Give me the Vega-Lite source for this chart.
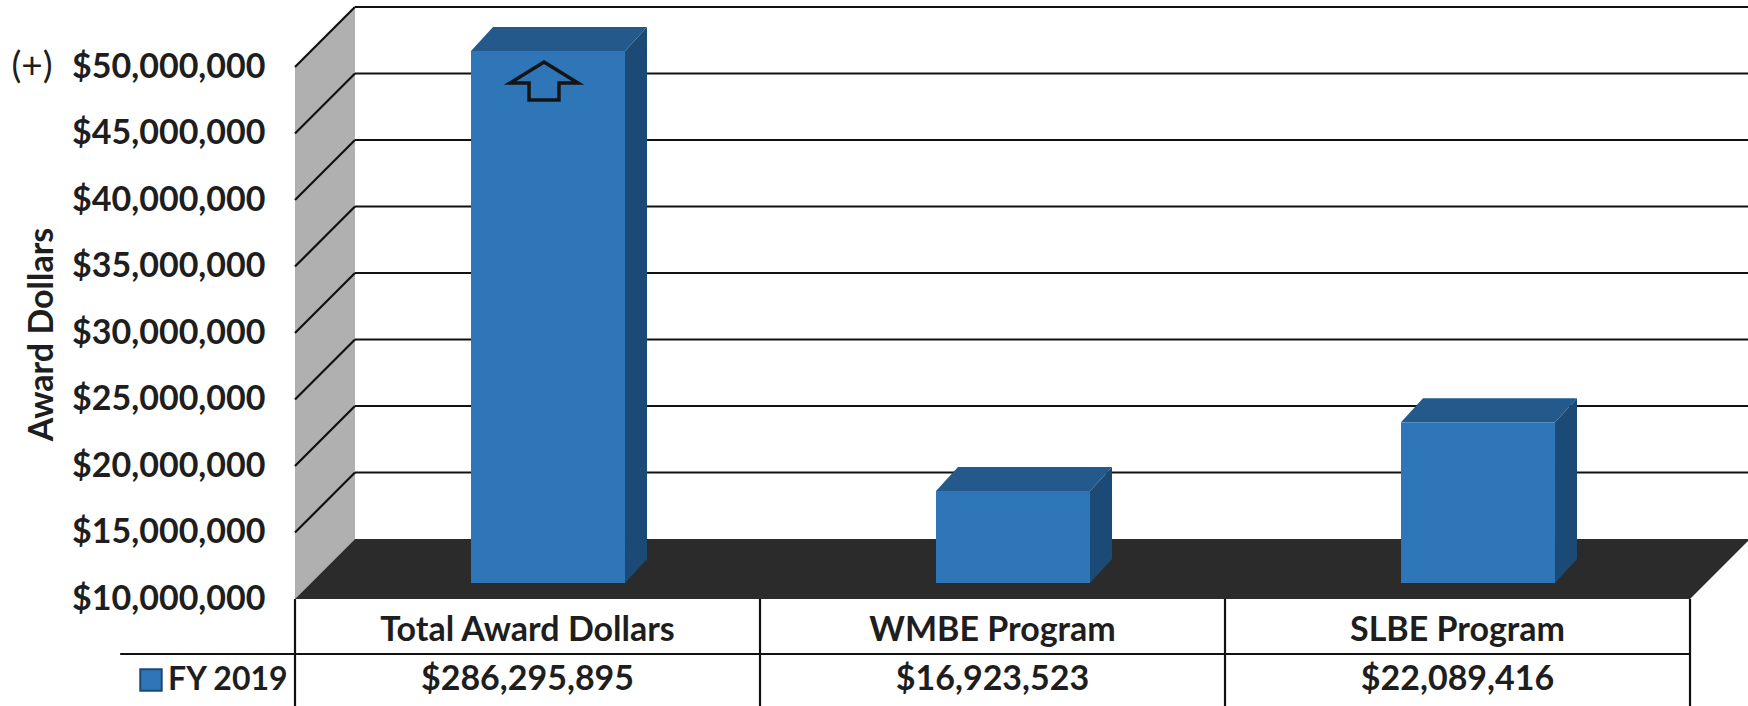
{
  "$schema": "https://vega.github.io/schema/vega-lite/v6.json",
  "width": 1453,
  "height": 706,
  "autosize": {"type": "none"},
  "padding": {"left": 295, "top": 0, "right": 0, "bottom": 0},
  "background": "white",
  "config": {"view": {"stroke": null}, "font": "Lato"},
  "datasets": {
    "bars": [
      {"category": "Total Award Dollars", "amount": 286295895, "year": "FY 2019"},
      {"category": "WMBE Program", "amount": 16923523, "year": "FY 2019"},
      {"category": "SLBE Program", "amount": 22089416, "year": "FY 2019"}
    ],
    "ticks": [
      {"tick": 10000000}, {"tick": 15000000}, {"tick": 20000000}, {"tick": 25000000},
      {"tick": 30000000}, {"tick": 35000000}, {"tick": 40000000}, {"tick": 45000000}, {"tick": 50000000}
    ]
  },
  "encoding": {
    "x": {"field": "X", "type": "quantitative", "scale": {"domain": [0, 3.1247], "nice": false, "zero": false}, "axis": null},
    "y": {
      "field": "Y", "type": "quantitative",
      "scale": {"domain": [1954887, 55037594], "nice": false, "zero": false},
      "axis": {
        "values": [10000000, 15000000, 20000000, 25000000, 30000000, 35000000, 40000000, 45000000, 50000000],
        "format": "$,.0f", "ticks": false, "domain": false, "grid": false,
        "labelPadding": 30, "labelLimit": 400, "labelFont": "Lato", "labelFontWeight": "bold",
        "labelFontSize": 34, "labelColor": "#1e1e1e", "labelOverlap": false,
        "title": "Award Dollars", "titleFont": "Lato", "titleFontWeight": "bold", "titleFontSize": 34,
        "titleColor": "#1e1e1e", "titleX": -253, "titleY": 334, "titleAngle": -90,
        "titleAlign": "center", "titleBaseline": "middle"
      }
    }
  },
  "layer": [
    {
      "data": {"name": "ticks"},
      "transform": [
        {"aggregate": [{"op": "min", "field": "tick", "as": "lo"}, {"op": "max", "field": "tick", "as": "hi"}]},
        {"calculate": "[0,1]", "as": "k"}, {"flatten": ["k"]},
        {"calculate": "datum.k*0.129", "as": "X"},
        {"calculate": "datum.lo+datum.k*4511000", "as": "Y"},
        {"calculate": "datum.hi+datum.k*4511000", "as": "Y2"}
      ],
      "mark": {"type": "area", "orient": "vertical", "color": "#b0b0b0"},
      "encoding": {"y2": {"field": "Y2"}}
    },
    {
      "data": {"name": "ticks"},
      "transform": [
        {"aggregate": [{"op": "min", "field": "tick", "as": "lo"}]},
        {"calculate": "[0,1]", "as": "k"}, {"flatten": ["k"]},
        {"calculate": "datum.k*0.129", "as": "X"},
        {"calculate": "3+datum.k*0.129", "as": "X2"},
        {"calculate": "datum.lo+datum.k*4511000", "as": "Y"}
      ],
      "mark": {"type": "area", "orient": "horizontal", "color": "#2b2b2b"},
      "encoding": {"x2": {"field": "X2"}}
    },
    {
      "data": {"name": "ticks"},
      "transform": [
        {"filter": "datum.tick > 10000000"},
        {"calculate": "0.129", "as": "X"},
        {"calculate": "3.13", "as": "X2"},
        {"calculate": "datum.tick+4511000", "as": "Y"}
      ],
      "mark": {"type": "rule", "color": "#111111", "strokeWidth": 2.2},
      "encoding": {"x2": {"field": "X2"}}
    },
    {
      "data": {"name": "ticks"},
      "transform": [
        {"filter": "datum.tick > 10000000"},
        {"calculate": "0", "as": "X"},
        {"calculate": "0.129", "as": "X2"},
        {"calculate": "datum.tick", "as": "Y"},
        {"calculate": "datum.tick+4511000", "as": "Y2"}
      ],
      "mark": {"type": "rule", "color": "#111111", "strokeWidth": 2.2},
      "encoding": {"x2": {"field": "X2"}, "y2": {"field": "Y2"}}
    },
    {
      "data": {"name": "bars"},
      "transform": [
        {"window": [{"op": "row_number", "as": "rn"}]},
        {"calculate": "datum.rn-1", "as": "idx"},
        {"calculate": "min(datum.amount,50000000)", "as": "cap"},
        {"calculate": "[0,1]", "as": "k"}, {"flatten": ["k"]},
        {"calculate": "datum.idx+0.7097+0.0473*datum.k", "as": "X"},
        {"calculate": "11203008+1804511*datum.k", "as": "Y"},
        {"calculate": "datum.cap+1203008+1804511*datum.k", "as": "Y2"}
      ],
      "mark": {"type": "area", "orient": "vertical", "color": "#1c4a76"},
      "encoding": {"y2": {"field": "Y2"}, "detail": {"field": "category"}}
    },
    {
      "data": {"name": "bars"},
      "transform": [
        {"window": [{"op": "row_number", "as": "rn"}]},
        {"calculate": "datum.rn-1", "as": "idx"},
        {"calculate": "min(datum.amount,50000000)", "as": "cap"},
        {"calculate": "[0,1]", "as": "k"}, {"flatten": ["k"]},
        {"calculate": "datum.idx+0.3785+0.0473*datum.k", "as": "X"},
        {"calculate": "datum.idx+0.7097+0.0473*datum.k", "as": "X2"},
        {"calculate": "datum.cap+1203008+1804511*datum.k", "as": "Y"}
      ],
      "mark": {"type": "area", "orient": "horizontal", "color": "#245a8b"},
      "encoding": {"x2": {"field": "X2"}, "detail": {"field": "category"}}
    },
    {
      "data": {"name": "bars"},
      "transform": [
        {"window": [{"op": "row_number", "as": "rn"}]},
        {"calculate": "datum.rn-1", "as": "idx"},
        {"calculate": "min(datum.amount,50000000)", "as": "cap"},
        {"calculate": "datum.idx+0.3785", "as": "X"},
        {"calculate": "datum.idx+0.7097", "as": "X2"},
        {"calculate": "11203008", "as": "Y"},
        {"calculate": "datum.cap+1203008", "as": "Y2"}
      ],
      "mark": {"type": "rect", "color": "#2e76b7"},
      "encoding": {"x2": {"field": "X2"}, "y2": {"field": "Y2"}}
    },
    {
      "data": {"name": "bars"},
      "transform": [
        {"window": [{"op": "row_number", "as": "rn"}]},
        {"calculate": "datum.rn-1", "as": "idx"},
        {"filter": "datum.amount > 50000000"},
        {"calculate": "datum.idx+0.3785+0.157", "as": "X"},
        {"calculate": "50000000+1203008-2256000", "as": "Y"}
      ],
      "mark": {
        "type": "point",
        "shape": "M0,-0.56L1,0.06L0.44,0.06L0.44,0.56L-0.44,0.56L-0.44,0.06L-1,0.06Z",
        "size": 4624, "filled": false, "stroke": "#141414", "strokeWidth": 3.5, "opacity": 1
      }
    },
    {
      "data": {"name": "bars"},
      "transform": [
        {"window": [{"op": "row_number", "as": "rn"}]},
        {"calculate": "datum.rn-1", "as": "X"},
        {"calculate": "10000000", "as": "Y"},
        {"calculate": "1954887", "as": "Y2"}
      ],
      "mark": {"type": "rule", "color": "#111111", "strokeWidth": 2.2},
      "encoding": {"y2": {"field": "Y2"}}
    },
    {
      "data": {"name": "bars"},
      "transform": [
        {"window": [{"op": "row_number", "as": "rn"}]},
        {"filter": "datum.rn == 3"},
        {"calculate": "datum.rn", "as": "X"},
        {"calculate": "10000000", "as": "Y"},
        {"calculate": "1954887", "as": "Y2"}
      ],
      "mark": {"type": "rule", "color": "#111111", "strokeWidth": 2.2},
      "encoding": {"y2": {"field": "Y2"}}
    },
    {
      "data": {"name": "bars"},
      "transform": [
        {"aggregate": [{"op": "count", "as": "n"}]},
        {"calculate": "-0.376", "as": "X"},
        {"calculate": "datum.n", "as": "X2"},
        {"calculate": "5864662", "as": "Y"}
      ],
      "mark": {"type": "rule", "color": "#111111", "strokeWidth": 2.2},
      "encoding": {"x2": {"field": "X2"}}
    },
    {
      "data": {"name": "bars"},
      "transform": [
        {"window": [{"op": "row_number", "as": "rn"}]},
        {"calculate": "datum.rn-0.5", "as": "X"},
        {"calculate": "7594000", "as": "Y"}
      ],
      "mark": {"type": "text", "font": "Lato", "fontWeight": "bold", "fontSize": 34, "color": "#1e1e1e", "align": "center", "baseline": "middle"},
      "encoding": {"text": {"field": "category"}}
    },
    {
      "data": {"name": "bars"},
      "transform": [
        {"window": [{"op": "row_number", "as": "rn"}]},
        {"calculate": "datum.rn-0.5", "as": "X"},
        {"calculate": "3910000", "as": "Y"}
      ],
      "mark": {"type": "text", "font": "Lato", "fontWeight": "bold", "fontSize": 34, "color": "#1e1e1e", "align": "center", "baseline": "middle"},
      "encoding": {"text": {"field": "amount", "type": "quantitative", "format": "$,.0f"}}
    },
    {
      "data": {"name": "bars"},
      "transform": [
        {"aggregate": [{"op": "count", "as": "n"}], "groupby": ["year"]},
        {"calculate": "-0.273", "as": "X"},
        {"calculate": "3910000", "as": "Y"}
      ],
      "mark": {"type": "text", "font": "Lato", "fontWeight": "bold", "fontSize": 32, "color": "#1e1e1e", "align": "left", "baseline": "middle"},
      "encoding": {"text": {"field": "year"}}
    },
    {
      "data": {"name": "bars"},
      "transform": [
        {"aggregate": [{"op": "count", "as": "n"}], "groupby": ["year"]},
        {"calculate": "-0.3097", "as": "X"},
        {"calculate": "3910000", "as": "Y"}
      ],
      "mark": {"type": "point", "shape": "square", "size": 460, "filled": true, "fill": "#2e76b7", "stroke": "#1c4a76", "strokeWidth": 2, "opacity": 1}
    },
    {
      "data": {"name": "ticks"},
      "transform": [
        {"filter": "datum.tick == 50000000"},
        {"calculate": "-0.5656", "as": "X"},
        {"calculate": "datum.tick", "as": "Y"}
      ],
      "mark": {"type": "text", "font": "Lato", "fontSize": 37, "color": "#1e1e1e", "align": "center", "baseline": "middle"},
      "encoding": {"text": {"value": "(+)"}}
    }
  ]
}
